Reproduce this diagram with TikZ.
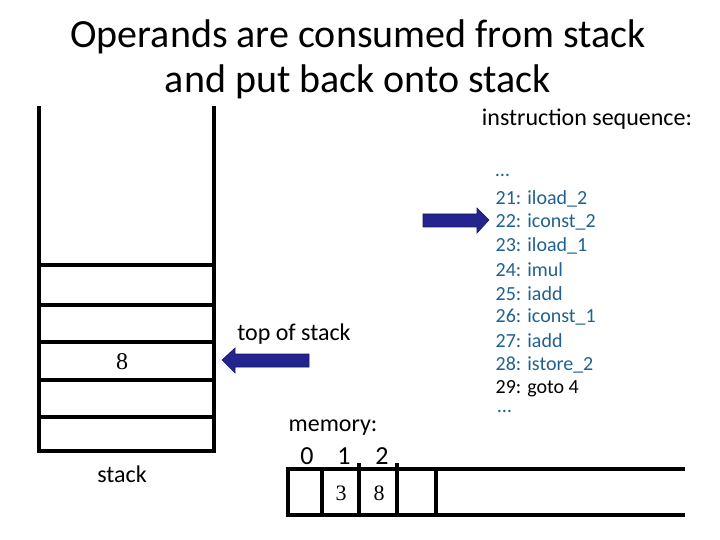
\documentclass[tikz,border=0pt]{standalone}
\usepackage{fontspec}
\setmainfont{Carlito}
\newfontfamily\digitfont{Liberation Serif}
\usepackage{tikz}
\usetikzlibrary{positioning, calc}
\definecolor{insblue}{RGB}{31,98,145}
\definecolor{arrowblue}{RGB}{36,36,142}
\definecolor{arrowedge}{RGB}{24,24,100}

\begin{document}
\begin{tikzpicture}[
  x=1bp, y=-1bp,
  wall/.style={line width=3.2pt, line cap=rect},
  title/.style={font=\fontsize{40bp}{45bp}\selectfont, align=center},
  lbl/.style={font=\fontsize{24bp}{29bp}\selectfont},
  ins/.style={font=\fontsize{20bp}{24bp}\selectfont, anchor=west, inner sep=0.5bp, text=#1},
  cellval/.style={font=\digitfont\fontsize{#1}{#1}\selectfont},
  blockarrow/.style={fill=arrowblue, draw=arrowedge, line width=0.6pt},
]
  \useasboundingbox (0,0) rectangle (720,540);

  % Title
  \node[title] (title) at (358,59) {Operands are consumed from stack\\and put back onto stack};

  % Stack
  \draw[wall] (39,108) -- (39,451) -- (214,451) -- (214,108);
  \foreach \y in {265,305,342,380,417}
    \draw[wall] (39,\y) -- (214,\y);
  \node[cellval=24bp] (top) at (122,362) {8};
  \node[lbl] (stacklbl) at (122,474) {stack};

  % Top of stack pointer
  \node[lbl] (toslbl) at (294,334) {top of stack};
  \fill[blockarrow] (222,360) -- (235,348) -- (235,354) -- (309,354)
    -- (309,367) -- (235,367) -- (235,373) -- cycle;

  % Memory
  \node[lbl] (memlbl) at (333,428) {memory:};
  \foreach \x/\i in {307/0,344/1,382/2}
    \node[font=\fontsize{26bp}{30bp}\selectfont] (idx\i) at (\x,456) {\i};
  \draw[wall] (683,469) -- (288,469) -- (288,515) -- (683,515);
  \foreach \x in {322,436}
    \draw[wall] (\x,469) -- (\x,515);
  \foreach \x in {359,397}
    \draw[wall] (\x,465) -- (\x,515);
  \node[cellval=22bp] (mem1) at (341,493) {3};
  \node[cellval=22bp] (mem2) at (379,493) {8};

  % Instruction sequence
  \node[lbl] (seqlbl) at (587,119) {instruction sequence:};
  \node[ins=insblue] (ins0) at (495,175) {\dots};
  \foreach \n/\t [count=\i] in {21/iload\_2,22/iconst\_2,23/iload\_1,24/imul,
      25/iadd,26/iconst\_1,27/iadd,28/istore\_2}
    \node[ins=insblue] (ins\i) at (495,{175+23.7*\i}) {\n: \t};
  \node[ins=black] (ins9) at (495,388.3) {29: goto 4};
  \node[ins=insblue] (ins10) at (497,411) {\dots};

  % Program counter
  \fill[blockarrow] (489,220) -- (477,208) -- (477,214) -- (423,214)
    -- (423,227) -- (477,227) -- (477,233) -- cycle;
\end{tikzpicture}
\end{document}
